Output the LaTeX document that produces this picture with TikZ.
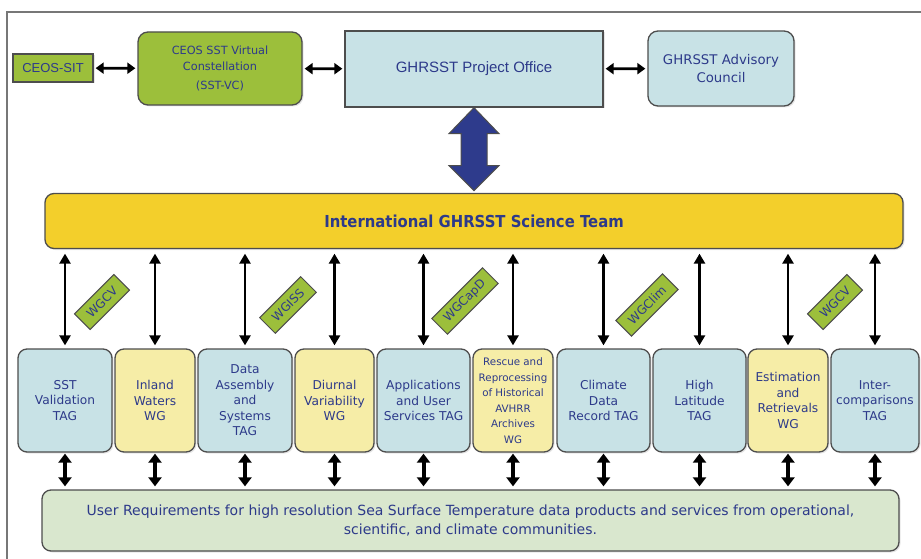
\documentclass[tikz,border=0pt]{standalone}
\usepackage{fontspec}
\setmainfont{DejaVu Sans}[BoldFeatures={FakeStretch=0.9}]
\newfontfamily\arialfont{Liberation Sans}
\usetikzlibrary{arrows.meta,shadows}
\definecolor{ceosgreen}{HTML}{9CBF3B}
\definecolor{skyfill}{HTML}{C8E2E6}
\definecolor{paleyellow}{HTML}{F6EDA7}
\definecolor{teamyellow}{HTML}{F3CF2B}
\definecolor{reqgreen}{HTML}{D9E7CE}
\definecolor{edgegray}{HTML}{4D4D4D}
\definecolor{framegray}{HTML}{777777}
\definecolor{txtblue}{HTML}{2D3A8A}
\definecolor{arrowblue}{HTML}{2E3B8C}

\begin{document}
\begin{tikzpicture}[x=1pt,y=-1pt,
    box/.style={draw=edgegray, line width=1.3pt, text=txtblue, align=center, inner sep=2pt,
        drop shadow={shadow xshift=1.5pt, shadow yshift=-1.5pt, opacity=0.2}},
    tagbox/.style={box, rounded corners=9pt, fill=skyfill, minimum width=#1, minimum height=103pt,
        font=\fontsize{12.2}{15.5}\selectfont},
    wgbox/.style={box, rounded corners=9pt, fill=paleyellow, minimum width=#1, minimum height=103pt,
        font=\fontsize{12.2}{15.5}\selectfont},
    wgtag/.style={draw=edgegray, line width=1pt, fill=ceosgreen, text=txtblue, rotate=45,
        minimum height=22pt, inner xsep=9pt, inner ysep=1pt, font=\fontsize{12}{13}\selectfont},
    hlink/.style={line width=2.8pt, arrows={Triangle[length=8pt,width=11pt]-Triangle[length=8pt,width=11pt]},
        shorten <=2pt, shorten >=2pt},
    link/.style={line width=2.8pt, arrows={Triangle[length=10pt,width=11pt]-Triangle[length=10pt,width=11pt]},
        shorten <=3pt, shorten >=4.5pt},
    feed/.style={line width=4pt, arrows={Triangle[length=9pt,width=13pt]-Triangle[length=9pt,width=13pt]},
        shorten <=1pt, shorten >=3pt},
    bigarrow/.style={fill=arrowblue, draw=edgegray, line width=1pt, line join=miter}]
    \useasboundingbox (0,0) rectangle (921,559);
    \draw [framegray, line width=1.2pt] (7,559) -- (7,12) -- (921,12);

    % top row
    \node (sit) at (53,68) [box, fill=ceosgreen, minimum width=80pt, minimum height=28pt,
        font=\arialfont\fontsize{13}{15}\selectfont] {CEOS-SIT};
    \node (vc) at (220,68.5) [box, rounded corners=10pt, fill=ceosgreen, minimum width=164pt, minimum height=73pt,
        font=\fontsize{11.3}{16}\selectfont] {CEOS SST Virtual\\Constellation\\[3pt](SST-VC)};
    \node (po) at (474,69) [box, fill=skyfill, minimum width=258pt, minimum height=76pt,
        font=\arialfont\fontsize{15}{18}\selectfont] {GHRSST Project Office};
    \node (adv) at (721,68.5) [box, rounded corners=10pt, fill=skyfill, minimum width=146pt, minimum height=75pt,
        font=\fontsize{13.3}{18}\selectfont] {GHRSST Advisory\\Council};

    \draw [hlink] (sit) -- (vc);
    \draw [hlink] (vc) -- (po);
    \draw [hlink] (po) -- (adv);

    % science team
    \node (team) at (474,221) [box, rounded corners=9pt, fill=teamyellow, minimum width=858pt, minimum height=55pt,
        font=\bfseries\fontsize{16.5}{19}\selectfont] {International GHRSST Science Team};

    \draw [bigarrow] (po.south) -- ++(25,26) -- ++(-12,0) -- ++(0,32) -- ++(12,0) -- ++(-25,25)
        -- ++(-25,-25) -- ++(12,0) -- ++(0,-32) -- ++(-12,0) -- cycle;

    % groups
    \node (val) at (65,400.5) [tagbox=94pt] {SST\\Validation\\TAG};
    \node (inland) at (155,400.5) [wgbox=80pt] {Inland\\Waters\\WG};
    \node (das) at (245,400.5) [tagbox=94pt] {Data\\Assembly\\and\\Systems\\TAG};
    \node (diur) at (334.5,400.5) [wgbox=79pt] {Diurnal\\Variability\\WG};
    \node (app) at (423.5,400.5) [tagbox=93pt] {Applications\\and User\\Services TAG};
    \node (rescue) at (513,400.5) [wgbox=80pt, font=\fontsize{10.3}{15.5}\selectfont]
        {Rescue and\\Reprocessing\\of Historical\\AVHRR\\Archives\\WG};
    \node (cdr) at (603.5,400.5) [tagbox=93pt] {Climate\\Data\\Record TAG};
    \node (hilat) at (699.5,400.5) [tagbox=93pt] {High\\Latitude\\TAG};
    \node (est) at (788,400.5) [wgbox=80pt] {Estimation\\and\\Retrievals\\WG};
    \node (inter) at (875,400.5) [tagbox=88pt] {Inter-\\comparisons\\TAG};

    \node (ureq) at (470.5,520.5) [box, rounded corners=9pt, fill=reqgreen, minimum width=857pt, minimum height=61pt,
        font=\fontsize{14}{19}\selectfont]
        {User Requirements for high resolution Sea Surface Temperature data products and services from operational,\\
         scientific, and climate communities.};

    \foreach \b in {val,inland,das,diur,app,rescue,cdr,hilat,est,inter} {
        \draw [link] (\b.north) -- (\b.north |- team.south);
        \draw [feed] (\b.south) -- (\b.south |- ureq.north);
    }

    % liaison tags
    \node (wgcv) at (102,302) [wgtag] {WGCV};
    \node (wgiss) at (288,305) [wgtag] {WGISS};
    \node (wgcapd) at (465,301) [wgtag] {WGCapD};
    \node (wgclim) at (647,305) [wgtag] {WGClim};
    \node (wgcvb) at (835,302) [wgtag] {WGCV};
\end{tikzpicture}
\end{document}
